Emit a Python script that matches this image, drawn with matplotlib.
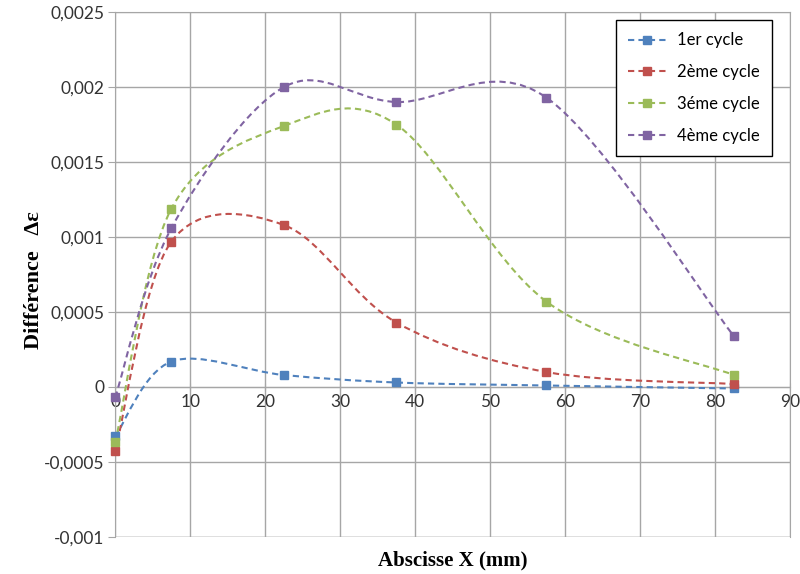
import matplotlib.pyplot as plt
from matplotlib.path import Path
from matplotlib.patches import PathPatch
from matplotlib.lines import Line2D
from matplotlib.ticker import MultipleLocator, FuncFormatter

# --- Données ---
x_mm = [0, 7.5, 22.5, 37.5, 57.5, 82.5]
cycle1 = [-0.00033, 0.00017, 0.00008, 0.00003, 0.00001, -0.00001]
cycle2 = [-0.00043, 0.00097, 0.00108, 0.00043, 0.00010, 0.00002]
cycle3 = [-0.00037, 0.00119, 0.00174, 0.00175, 0.00057, 0.00008]
cycle4 = [-0.00007, 0.00106, 0.00200, 0.00190, 0.00193, 0.00034]
labels = ['1er cycle', '2ème cycle', '3éme cycle', '4ème cycle']
colors = ['#4F81BD', '#C0504D', '#9BBB59', '#8064A2']


def smooth_path(xs, ys):
    # courbe lissée façon Excel (Bézier type Catmull-Rom)
    pts = list(zip(xs, ys))
    n = len(pts)
    verts = [pts[0]]
    codes = [Path.MOVETO]
    for i in range(n - 1):
        p0 = pts[max(i - 1, 0)]
        p1 = pts[i]
        p2 = pts[i + 1]
        p3 = pts[min(i + 2, n - 1)]
        c1 = (p1[0] + (p2[0] - p0[0]) / 6, p1[1] + (p2[1] - p0[1]) / 6)
        c2 = (p2[0] - (p3[0] - p1[0]) / 6, p2[1] - (p3[1] - p1[1]) / 6)
        verts += [c1, c2, p2]
        codes += [Path.CURVE4] * 3
    return Path(verts, codes)


fig = plt.figure(figsize=(8, 5.74), dpi=100)
ax = fig.add_axes([0.144, 0.0645, 0.8435, 0.9145])

ax.set_xlim(0, 90)
ax.set_ylim(-0.001, 0.0025)
ax.xaxis.set_major_locator(MultipleLocator(10))
ax.yaxis.set_major_locator(MultipleLocator(0.0005))
ax.yaxis.set_major_formatter(FuncFormatter(lambda v, p: f'{round(v, 6):g}'.replace('.', ',')))
ax.grid(True, color='#a6a6a6', linewidth=1)
ax.set_axisbelow(True)

for side in ['top', 'right', 'left', 'bottom']:
    ax.spines[side].set_color('#a6a6a6')
ax.spines['bottom'].set_position(('data', 0))
ax.axhline(-0.001, color='#a6a6a6', linewidth=1, zorder=0)

ax.tick_params(axis='y', direction='out', length=5, color='#a6a6a6', labelsize=12.5, pad=3)
ax.tick_params(axis='x', direction='inout', length=6, color='#a6a6a6', labelsize=12.5, pad=2)
for lab in ax.get_xticklabels() + ax.get_yticklabels():
    lab.set_fontfamily('Lato')
    lab.set_color('#333333')

series = [cycle1, cycle2, cycle3, cycle4]
handles = []
for ys, lab, col in zip(series, labels, colors):
    patch = PathPatch(smooth_path(x_mm, ys), facecolor='none', edgecolor=col,
                      linewidth=1.5, linestyle=(0, (3, 2)), zorder=3, clip_on=False)
    ax.add_patch(patch)
    ax.plot(x_mm, ys, linestyle='none', marker='s', markersize=5.5,
            color=col, zorder=4, clip_on=False)
    handles.append(Line2D([], [], color=col, linewidth=1.5, linestyle=(0, (3, 2)),
                          marker='s', markersize=5.5))

leg = ax.legend(handles, labels, loc='upper right', bbox_to_anchor=(0.973, 0.985),
                borderaxespad=0, frameon=True, fancybox=False, edgecolor='black',
                framealpha=1, prop={'family': 'Lato', 'size': 12}, labelspacing=0.95,
                handlelength=2.3, borderpad=0.75, handletextpad=0.6)
leg.get_frame().set_linewidth(1)

ax.set_xlabel('Abscisse X (mm)', fontfamily='Liberation Serif', fontweight='bold',
              fontsize=15)
ax.xaxis.set_label_coords(0.5, -0.025)
ax.set_ylabel('Différence   Δε', fontfamily='Liberation Serif', fontweight='bold',
              fontsize=16)
ax.yaxis.set_label_coords(-0.106, 0.49)

fig.savefig('out.png', dpi=100)
